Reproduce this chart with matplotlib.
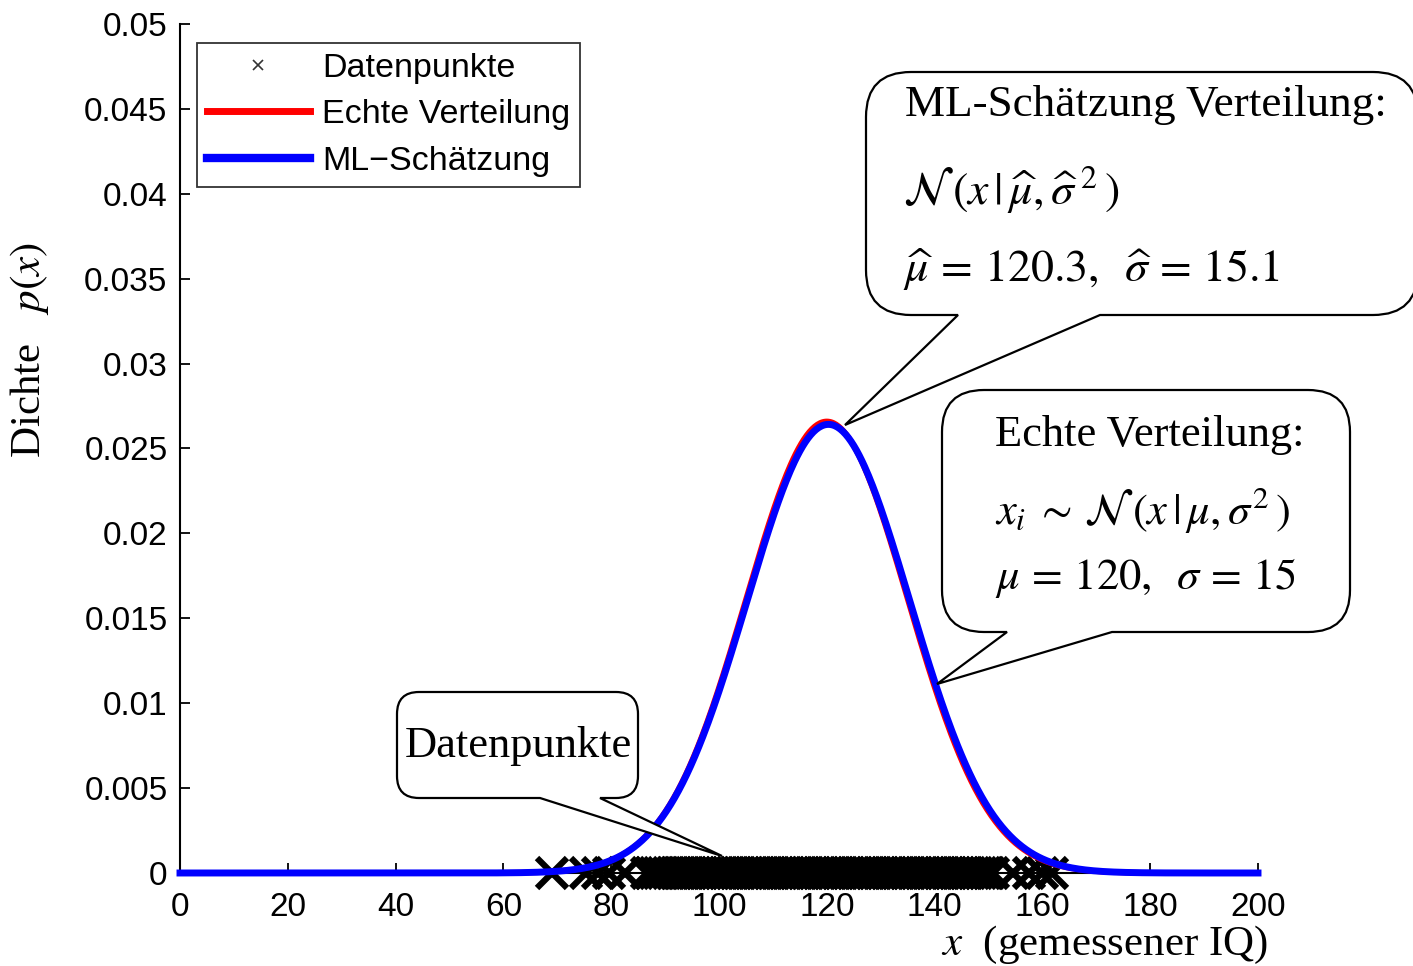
import numpy as np
import matplotlib
matplotlib.use("Agg")
import matplotlib.pyplot as plt
from matplotlib.path import Path
from matplotlib.patches import PathPatch
from matplotlib.lines import Line2D
from matplotlib import transforms

plt.rcParams['font.family'] = ['Liberation Sans', 'DejaVu Sans']
plt.rcParams['mathtext.fontset'] = 'stix'

# IQ samples (x positions of the crosses on the baseline)
daten = [69.0, 75.3, 77.6, 79.6, 82.6, 86.6, 87.4, 88.1, 88.9, 89.7,
         90.5, 91.2, 92.0, 92.6, 93.3, 94.1, 94.8, 95.5, 96.2, 96.9, 97.5, 98.3,
         99.0, 99.6, 100.4, 101.1, 101.7, 102.5, 103.2, 103.8, 104.6, 105.3,
         105.9, 106.7, 107.4, 108.0, 108.8, 109.5, 110.1, 110.9, 111.6, 112.2,
         113.0, 113.7, 114.3, 115.1, 115.8, 116.4, 117.2, 117.9, 118.5, 119.3,
         120.0, 120.6, 121.4, 122.1, 122.7, 123.5, 124.2, 124.8, 125.6, 126.3,
         126.9, 127.7, 128.4, 129.0, 129.8, 130.5, 131.1, 131.9, 132.6, 133.2,
         134.0, 134.7, 135.3, 136.1, 136.8, 137.4, 138.2, 138.9, 139.5, 140.3,
         141.0, 141.6, 142.4, 143.1, 143.7, 144.5, 145.2, 145.8, 146.6, 147.3,
         147.9, 148.7, 149.4, 150.1, 150.8, 154.6, 157.6, 160.0, 161.8]

# true and estimated parameters
mu, sigma = 120.0, 15.0
mu_ml, sigma_ml = 120.3, 15.1

xticks = [0, 20, 40, 60, 80, 100, 120, 140, 160, 180, 200]
yticks = [0, 0.005, 0.01, 0.015, 0.02, 0.025, 0.03, 0.035, 0.04, 0.045, 0.05]
ytick_labels = ['0', '0.005', '0.01', '0.015', '0.02', '0.025', '0.03',
                '0.035', '0.04', '0.045', '0.05']


def gauss(x, m, s):
    return np.exp(-0.5 * ((x - m) / s) ** 2) / (s * np.sqrt(2 * np.pi))


W, H = 1413, 966
fig = plt.figure(figsize=(W / 100, H / 100), dpi=100)
ax = fig.add_axes([180 / W, 1 - 873 / H, (1258 - 180) / W, (873 - 24) / H])

x = np.linspace(0, 200, 801)
ax.plot(daten, np.zeros(len(daten)), 'x', color='black', ms=22, mew=4.5,
        zorder=2, clip_on=False)
ax.plot(x, gauss(x, mu, sigma), color='red', lw=4, zorder=3, clip_on=False)
ax.plot(x, gauss(x, mu_ml, sigma_ml), color='blue', lw=5, zorder=4,
        clip_on=False)

ax.set_xlim(0, 200)
ax.set_ylim(0, 0.05)
ax.set_xticks(xticks)
ax.set_yticks(yticks)
ax.set_yticklabels(ytick_labels)
ax.tick_params(direction='in', length=7, width=1.3, labelsize=24)
ax.tick_params(axis='x', pad=14)
ax.tick_params(axis='y', pad=9)
for side in ['top', 'right']:
    ax.spines[side].set_visible(False)
for side in ['left', 'bottom']:
    ax.spines[side].set_linewidth(1.5)

handles = [Line2D([], [], ls='none', marker='x', color='#333333', ms=7, mew=1.2),
           Line2D([], [], color='red', lw=5),
           Line2D([], [], color='blue', lw=6)]
leg = ax.legend(handles, ['Datenpunkte', 'Echte Verteilung', 'ML\u2212Schätzung'],
                loc='upper left', bbox_to_anchor=(0.016, 0.978), fontsize=24.5,
                frameon=True, fancybox=False, handlelength=3.0, handletextpad=0.36,
                borderpad=0.3, labelspacing=0.45, borderaxespad=0)
leg.get_frame().set_edgecolor('black')
leg.get_frame().set_linewidth(1.3)

# pixel coordinates with origin top-left
px = transforms.Affine2D().scale(1 / W, -1 / H).translate(0, 1) + fig.transFigure


def bubble(x0, y0, x1, y1, r, a, b, tip):
    verts = [(x0 + r, y0), (x1 - r, y0), (x1, y0), (x1, y0 + r),
             (x1, y1 - r), (x1, y1), (x1 - r, y1), (b, y1), tip, (a, y1),
             (x0 + r, y1), (x0, y1), (x0, y1 - r), (x0, y0 + r), (x0, y0),
             (x0 + r, y0), (x0 + r, y0)]
    codes = [Path.MOVETO, Path.LINETO, Path.CURVE3, Path.CURVE3,
             Path.LINETO, Path.CURVE3, Path.CURVE3, Path.LINETO, Path.LINETO,
             Path.LINETO, Path.LINETO, Path.CURVE3, Path.CURVE3, Path.LINETO,
             Path.CURVE3, Path.CURVE3, Path.CLOSEPOLY]
    p = PathPatch(Path(verts, codes), transform=px, facecolor='white',
                  edgecolor='black', lw=1.6, zorder=5)
    fig.patches.append(p)


bubble(866, 72, 1418, 315, 45, 958, 1100, (845, 425))
bubble(942, 390, 1350, 632, 42, 1007, 1112, (937, 684))
bubble(397, 692, 638, 798, 22, 540, 600, (722, 856))

serif = dict(family=['Liberation Serif', 'DejaVu Serif'], transform=px,
             color='black', zorder=6)
fig.text(905, 105, 'ML-Schätzung Verteilung:', fontsize=32.5, va='center', **serif)
fig.text(903, 190,
         r'$\mathcal{N}\,(x\,|\,\widehat{\mu},\widehat{\sigma}^{\;2}\,)$',
         fontsize=33, va='center', **serif)
fig.text(903, 270, r'$\widehat{\mu}\,=\,120.3,\;\;\widehat{\sigma}\,=\,15.1$',
         fontsize=33, va='center', **serif)

fig.text(995, 435, 'Echte Verteilung:', fontsize=32, va='center', **serif)
fig.text(995, 510, r'$x_i\;\sim\,\mathcal{N}\,(x\,|\,\mu,\sigma^2\,)$',
         fontsize=32, va='center', **serif)
fig.text(995, 578, r'$\mu\,=\,120,\;\;\sigma\,=\,15$', fontsize=32,
         va='center', **serif)

fig.text(405, 746, 'Datenpunkte', fontsize=32, va='center', **serif)

fig.text(30, 350, r'Dichte   $p(x)$', fontsize=31, rotation=90, ha='center',
         va='center', **serif)
fig.text(1268, 945, r'$x$  (gemessener IQ)', fontsize=31, ha='right',
         va='center', **serif)

fig.savefig('out.png', dpi=100)
